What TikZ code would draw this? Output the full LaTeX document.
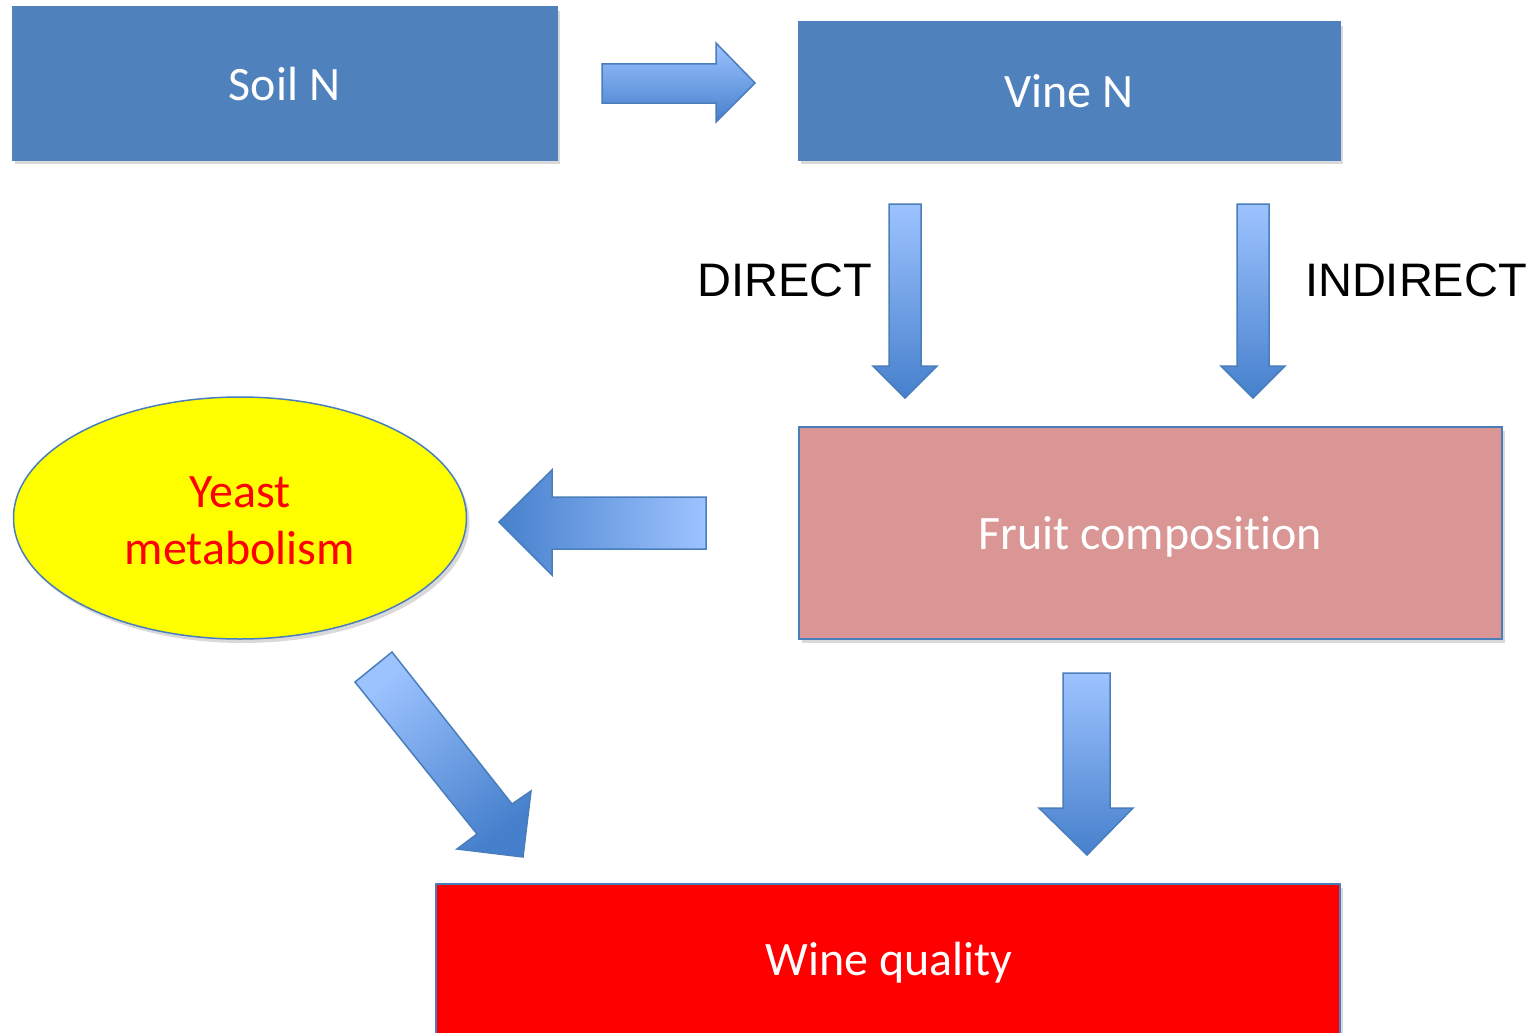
\documentclass[tikz,border=0pt]{standalone}
\usepackage{fontspec}
\setmainfont{Carlito}[Ligatures={NoCommon}]
\newfontfamily\arialfont{Liberation Sans}
\usetikzlibrary{shapes.geometric,shadows}
\definecolor{boxblue}{HTML}{4F81BD}
\definecolor{edgeblue}{HTML}{4A7EBB}
\definecolor{fruitpink}{HTML}{D99694}
\definecolor{arrlight}{HTML}{9DC3FF}
\definecolor{arrdark}{HTML}{4680CC}
\definecolor{pureyellow}{HTML}{FFFF00}
\definecolor{purered}{HTML}{FF0000}
\tikzset{
  boxshadow/.style={drop shadow={shadow xshift=3pt,shadow yshift=-4pt,opacity=0.15,fill=black}},
  bluebox/.style={rectangle,fill=boxblue,draw=boxblue,line width=1pt,inner sep=0pt,
    text=white,font=\fontsize{48}{54}\selectfont,boxshadow},
  blockarrow/.style={draw=edgeblue,line width=1.5pt,line join=miter},
  lbl/.style={font=\arialfont\fontsize{47}{52}\selectfont,text=black,inner sep=0pt},
}
\begin{document}
\begin{tikzpicture}[x=1pt,y=-1pt]
\useasboundingbox (0,0) rectangle (1531,1033);
\clip (0,0) rectangle (1531,1033);

% boxes
\node[bluebox,minimum width=545pt,minimum height=153pt] (soil) at (284.5,83.5) {Soil N};
\node[bluebox,minimum width=542pt,minimum height=138pt] (vine) at (1069,91) {Vine N};
\node[rectangle,fill=fruitpink,draw=edgeblue,line width=2pt,inner sep=0pt,
  minimum width=703pt,minimum height=212pt,text=white,font=\fontsize{48}{54}\selectfont,boxshadow]
  (fruit) at (1150.5,533) {};
\node[text=white,font=\fontsize{48}{54}\selectfont] (fruittext) at (1150.5,537) {Fruit composition};
\node[ellipse,fill=pureyellow,draw=edgeblue,line width=1.5pt,inner sep=0pt,
  minimum width=453pt,minimum height=242pt,boxshadow] (yeast) at (240,518) {};
\node[text=purered,align=center,font=\fontsize{48}{57}\selectfont] (yeasttext) at (240,521) {Yeast\\metabolism};
\node[rectangle,fill=purered,draw=edgeblue,line width=2pt,inner sep=0pt,
  minimum width=904pt,minimum height=200pt,boxshadow] (wine) at (888,984) {};
\node[text=white,font=\fontsize{48}{54}\selectfont] (winetext) at (889,963) {Wine quality};

% labels
\node[lbl] (direct) at (785,280) {DIRECT};
\node[lbl] (indirect) at (1416,280) {INDIRECT};

% block arrows
% Soil N -> Vine N
\draw[blockarrow,top color=arrlight,bottom color=arrdark]
  (602,64) -- (716,64) -- (716,43) -- (755,83) -- (716,122) -- (716,103) -- (602,103) -- cycle;
% Vine N -> Fruit (direct)
\draw[blockarrow,top color=arrlight,bottom color=arrdark]
  (889,204) -- (921,204) -- (921,366) -- (937,366) -- (905,398) -- (873,366) -- (889,366) -- cycle;
% Vine N -> Fruit (indirect)
\draw[blockarrow,top color=arrlight,bottom color=arrdark]
  (1237,204) -- (1269,204) -- (1269,366) -- (1285,366) -- (1253,398) -- (1221,366) -- (1237,366) -- cycle;
% Fruit -> Yeast
\draw[blockarrow,left color=arrdark,right color=arrlight]
  (706,497) -- (552,497) -- (552,470) -- (499,522) -- (552,575) -- (552,549) -- (706,549) -- cycle;
% Fruit -> Wine
\draw[blockarrow,top color=arrlight,bottom color=arrdark]
  (1063,673) -- (1110,673) -- (1110,808) -- (1133,808) -- (1087,855) -- (1039,808) -- (1063,808) -- cycle;
% Yeast -> Wine
\draw[blockarrow,top color=arrlight,bottom color=arrdark,shading angle=38]
  (355,682) -- (392,652) -- (512,804) -- (531,791) -- (523,857) -- (457,849) -- (477,834) -- cycle;
\end{tikzpicture}
\end{document}
